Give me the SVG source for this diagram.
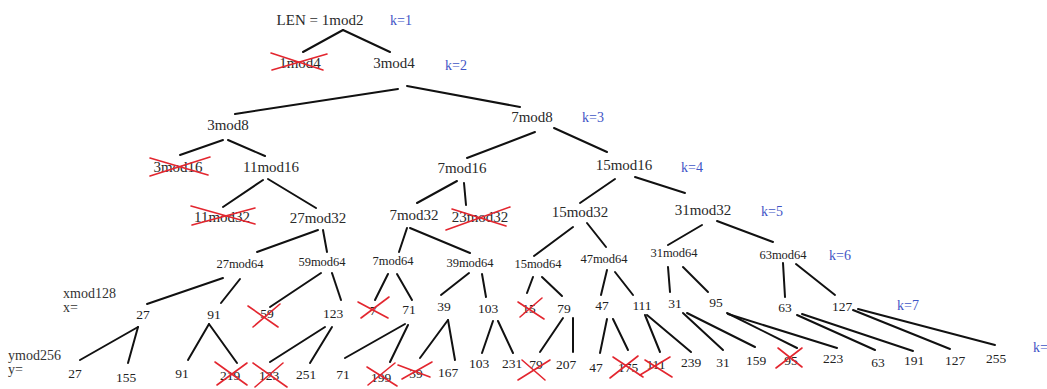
<svg xmlns="http://www.w3.org/2000/svg" width="1047" height="389" viewBox="0 0 1047 389">
  <style>
    .bg { fill: #ffffff; }
    .big { font-family: "Liberation Serif", "Times New Roman", serif; font-size: 15px; fill: #2a2a2a; text-anchor: middle; }
    .mid { font-family: "Liberation Serif", "Times New Roman", serif; font-size: 12.5px; fill: #222; text-anchor: middle; }
    .num { font-family: "Liberation Serif", "Times New Roman", serif; font-size: 13.5px; fill: #222; text-anchor: middle; }
    .lab { font-family: "Liberation Serif", "Times New Roman", serif; font-size: 14px; fill: #333; }
    .k { font-family: "Liberation Serif", "Times New Roman", serif; font-size: 14px; fill: #3f55c6; }
    .edge { stroke: #111; stroke-width: 2; stroke-linecap: round; fill: none; }
    .cross { stroke: #e3262f; stroke-width: 1.6; stroke-linecap: round; fill: none; }
  </style>
  <rect class="bg" x="0" y="0" width="1047" height="389"/>

  <!-- level labels -->
  <g id="levels">
    <text class="k" x="390" y="25">k=1</text>
    <text class="k" x="445" y="70">k=2</text>
    <text class="k" x="582" y="122">k=3</text>
    <text class="k" x="681" y="172">k=4</text>
    <text class="k" x="761" y="216">k=5</text>
    <text class="k" x="829" y="260">k=6</text>
    <text class="k" x="897" y="310">k=7</text>
    <text class="k" x="1033" y="352">k=</text>
  </g>

  <!-- row captions -->
  <g id="captions">
    <text class="lab" x="63" y="298">xmod128</text>
    <text class="lab" x="63" y="312">x=</text>
    <text class="lab" x="8" y="360">ymod256</text>
    <text class="lab" x="8" y="374">y=</text>
  </g>

  <!-- tree edges -->
  <g id="connectors">
    <line class="edge" x1="343" y1="30" x2="303" y2="52"/>
    <line class="edge" x1="343" y1="30" x2="390" y2="52"/>
    <line class="edge" x1="398" y1="89" x2="235" y2="114"/>
    <line class="edge" x1="407" y1="86" x2="520" y2="107"/>
    <line class="edge" x1="223" y1="140" x2="180" y2="155"/>
    <line class="edge" x1="228" y1="140" x2="265" y2="156"/>
    <line class="edge" x1="535" y1="132" x2="467" y2="158"/>
    <line class="edge" x1="554" y1="128" x2="607" y2="152"/>
    <line class="edge" x1="263" y1="180" x2="223" y2="207"/>
    <line class="edge" x1="268" y1="179" x2="316" y2="208"/>
    <line class="edge" x1="457" y1="181" x2="417" y2="203"/>
    <line class="edge" x1="464" y1="183" x2="466" y2="205"/>
    <line class="edge" x1="615" y1="179" x2="580" y2="203"/>
    <line class="edge" x1="635" y1="177" x2="685" y2="193"/>
    <line class="edge" x1="318" y1="230" x2="257" y2="252"/>
    <line class="edge" x1="323" y1="230" x2="327" y2="252"/>
    <line class="edge" x1="407" y1="228" x2="399" y2="252"/>
    <line class="edge" x1="410" y1="228" x2="470" y2="253"/>
    <line class="edge" x1="573" y1="227" x2="534" y2="256"/>
    <line class="edge" x1="587" y1="223" x2="606" y2="247"/>
    <line class="edge" x1="702" y1="225" x2="668" y2="245"/>
    <line class="edge" x1="717" y1="221" x2="773" y2="242"/>
    <line class="edge" x1="223" y1="278" x2="147" y2="304"/>
    <line class="edge" x1="240" y1="279" x2="221" y2="303"/>
    <line class="edge" x1="321" y1="273" x2="270" y2="307"/>
    <line class="edge" x1="332" y1="273" x2="341" y2="300"/>
    <line class="edge" x1="388" y1="274" x2="375" y2="300"/>
    <line class="edge" x1="397" y1="274" x2="412" y2="300"/>
    <line class="edge" x1="469" y1="273" x2="441" y2="295"/>
    <line class="edge" x1="482" y1="274" x2="486" y2="297"/>
    <line class="edge" x1="533" y1="277" x2="527" y2="293"/>
    <line class="edge" x1="542" y1="277" x2="562" y2="296"/>
    <line class="edge" x1="607" y1="270" x2="601" y2="295"/>
    <line class="edge" x1="615" y1="272" x2="633" y2="295"/>
    <line class="edge" x1="668" y1="267" x2="670" y2="292"/>
    <line class="edge" x1="683" y1="267" x2="708" y2="292"/>
    <line class="edge" x1="783" y1="263" x2="785" y2="297"/>
    <line class="edge" x1="796" y1="264" x2="835" y2="295"/>
    <line class="edge" x1="138" y1="327" x2="80" y2="360"/>
    <line class="edge" x1="138" y1="327" x2="128" y2="363"/>
    <line class="edge" x1="209" y1="324" x2="188" y2="360"/>
    <line class="edge" x1="209" y1="324" x2="237" y2="363"/>
    <line class="edge" x1="325" y1="327" x2="270" y2="362"/>
    <line class="edge" x1="332" y1="327" x2="310" y2="363"/>
    <line class="edge" x1="405" y1="324" x2="345" y2="358"/>
    <line class="edge" x1="408" y1="325" x2="390" y2="362"/>
    <line class="edge" x1="448" y1="320" x2="420" y2="358"/>
    <line class="edge" x1="448" y1="320" x2="455" y2="360"/>
    <line class="edge" x1="493" y1="321" x2="482" y2="353"/>
    <line class="edge" x1="498" y1="321" x2="513" y2="353"/>
    <line class="edge" x1="563" y1="318" x2="540" y2="352"/>
    <line class="edge" x1="573" y1="318" x2="573" y2="352"/>
    <line class="edge" x1="607" y1="319" x2="600" y2="353"/>
    <line class="edge" x1="613" y1="319" x2="628" y2="350"/>
    <line class="edge" x1="645" y1="315" x2="660" y2="352"/>
    <line class="edge" x1="647" y1="315" x2="691" y2="352"/>
    <line class="edge" x1="683" y1="313" x2="723" y2="350"/>
    <line class="edge" x1="687" y1="313" x2="755" y2="347"/>
    <line class="edge" x1="727" y1="313" x2="797" y2="348"/>
    <line class="edge" x1="728" y1="314" x2="837" y2="348"/>
    <line class="edge" x1="797" y1="315" x2="875" y2="350"/>
    <line class="edge" x1="802" y1="314" x2="913" y2="351"/>
    <line class="edge" x1="853" y1="310" x2="950" y2="349"/>
    <line class="edge" x1="858" y1="309" x2="995" y2="345"/>
  </g>

  <!-- k = 1..5 nodes -->
  <g id="n-1mod2"><text class="big" x="320" y="25">LEN = 1mod2</text></g>
  <g id="n-1mod4"><text class="big" x="300" y="68">1mod4</text>
    <line class="cross" x1="271" y1="53" x2="323" y2="70"/><line class="cross" x1="272" y1="70" x2="327" y2="54"/></g>
  <g id="n-3mod4"><text class="big" x="394" y="68">3mod4</text></g>
  <g id="n-3mod8"><text class="big" x="228" y="130">3mod8</text></g>
  <g id="n-7mod8"><text class="big" x="532" y="122">7mod8</text></g>
  <g id="n-3mod16"><text class="big" x="178" y="172">3mod16</text>
    <line class="cross" x1="150" y1="158" x2="208" y2="175"/><line class="cross" x1="150" y1="176" x2="210" y2="157"/></g>
  <g id="n-11mod16"><text class="big" x="271" y="172">11mod16</text></g>
  <g id="n-7mod16"><text class="big" x="462" y="173">7mod16</text></g>
  <g id="n-15mod16"><text class="big" x="624" y="170">15mod16</text></g>
  <g id="n-11mod32"><text class="big" x="222" y="222">11mod32</text>
    <line class="cross" x1="191" y1="206" x2="255" y2="224"/><line class="cross" x1="192" y1="225" x2="255" y2="208"/></g>
  <g id="n-27mod32"><text class="big" x="318" y="223">27mod32</text></g>
  <g id="n-7mod32"><text class="big" x="414" y="220">7mod32</text></g>
  <g id="n-23mod32"><text class="big" x="480" y="222">23mod32</text>
    <line class="cross" x1="446" y1="230" x2="510" y2="207"/><line class="cross" x1="452" y1="209" x2="506" y2="226"/></g>
  <g id="n-15mod32"><text class="big" x="580" y="217">15mod32</text></g>
  <g id="n-31mod32"><text class="big" x="703" y="215">31mod32</text></g>

  <!-- k = 6 nodes -->
  <g id="n-27mod64"><text class="mid" x="240" y="268">27mod64</text></g>
  <g id="n-59mod64"><text class="mid" x="322" y="266">59mod64</text></g>
  <g id="n-7mod64"><text class="mid" x="393" y="265">7mod64</text></g>
  <g id="n-39mod64"><text class="mid" x="470" y="267">39mod64</text></g>
  <g id="n-15mod64"><text class="mid" x="538" y="268">15mod64</text></g>
  <g id="n-47mod64"><text class="mid" x="604" y="263">47mod64</text></g>
  <g id="n-31mod64"><text class="mid" x="674" y="257">31mod64</text></g>
  <g id="n-63mod64"><text class="mid" x="783" y="259">63mod64</text></g>

  <!-- k = 7 nodes (x mod 128) -->
  <g id="x-27"><text class="num" x="143" y="319">27</text></g>
  <g id="x-91"><text class="num" x="214" y="319">91</text></g>
  <g id="x-59"><text class="num" x="267" y="318">59</text>
    <line class="cross" x1="248" y1="306" x2="278" y2="327"/><line class="cross" x1="253" y1="327" x2="280" y2="304"/></g>
  <g id="x-123"><text class="num" x="333" y="318">123</text></g>
  <g id="x-7"><text class="num" x="373" y="315">7</text>
    <line class="cross" x1="358" y1="302" x2="388" y2="318"/><line class="cross" x1="361" y1="318" x2="389" y2="297"/></g>
  <g id="x-71"><text class="num" x="409" y="314">71</text></g>
  <g id="x-39"><text class="num" x="444" y="311">39</text></g>
  <g id="x-103"><text class="num" x="488" y="313">103</text></g>
  <g id="x-15"><text class="num" x="529" y="313">15</text>
    <line class="cross" x1="518" y1="302" x2="544" y2="319"/><line class="cross" x1="520" y1="317" x2="542" y2="298"/></g>
  <g id="x-79"><text class="num" x="564" y="313">79</text></g>
  <g id="x-47"><text class="num" x="602" y="310">47</text></g>
  <g id="x-111"><text class="num" x="642" y="310">111</text></g>
  <g id="x-31"><text class="num" x="675" y="308">31</text></g>
  <g id="x-95"><text class="num" x="716" y="307">95</text></g>
  <g id="x-63"><text class="num" x="785" y="312">63</text></g>
  <g id="x-127"><text class="num" x="842" y="311">127</text></g>

  <!-- k = 8 leaves (y mod 256) -->
  <g id="y-27"><text class="num" x="75" y="378">27</text></g>
  <g id="y-155"><text class="num" x="126" y="382">155</text></g>
  <g id="y-91"><text class="num" x="182" y="378">91</text></g>
  <g id="y-219"><text class="num" x="230" y="380">219</text>
    <line class="cross" x1="215" y1="362" x2="247" y2="385"/><line class="cross" x1="217" y1="385" x2="247" y2="363"/></g>
  <g id="y-123"><text class="num" x="269" y="380">123</text>
    <line class="cross" x1="253" y1="363" x2="287" y2="387"/><line class="cross" x1="255" y1="387" x2="283" y2="363"/></g>
  <g id="y-251"><text class="num" x="306" y="379">251</text></g>
  <g id="y-71"><text class="num" x="343" y="379">71</text></g>
  <g id="y-199"><text class="num" x="381" y="382">199</text>
    <line class="cross" x1="367" y1="367" x2="397" y2="386"/><line class="cross" x1="368" y1="385" x2="395" y2="363"/></g>
  <g id="y-39"><text class="num" x="416" y="378">39</text>
    <line class="cross" x1="398" y1="365" x2="430" y2="377"/><line class="cross" x1="402" y1="379" x2="432" y2="362"/></g>
  <g id="y-167"><text class="num" x="448" y="377">167</text></g>
  <g id="y-103"><text class="num" x="479" y="368">103</text></g>
  <g id="y-231"><text class="num" x="512" y="368">231</text></g>
  <g id="y-79"><text class="num" x="536" y="369">79</text>
    <line class="cross" x1="518" y1="380" x2="550" y2="360"/><line class="cross" x1="522" y1="360" x2="545" y2="380"/></g>
  <g id="y-207"><text class="num" x="566" y="369">207</text></g>
  <g id="y-47"><text class="num" x="596" y="372">47</text></g>
  <g id="y-175"><text class="num" x="628" y="372">175</text>
    <line class="cross" x1="610" y1="378" x2="638" y2="356"/><line class="cross" x1="613" y1="357" x2="643" y2="377"/></g>
  <g id="y-111"><text class="num" x="656" y="369">111</text>
    <line class="cross" x1="640" y1="375" x2="670" y2="357"/><line class="cross" x1="645" y1="360" x2="672" y2="377"/></g>
  <g id="y-239"><text class="num" x="691" y="367">239</text></g>
  <g id="y-31"><text class="num" x="723" y="367">31</text></g>
  <g id="y-159"><text class="num" x="756" y="365">159</text></g>
  <g id="y-95"><text class="num" x="791" y="365">95</text>
    <line class="cross" x1="776" y1="368" x2="802" y2="348"/><line class="cross" x1="778" y1="348" x2="802" y2="367"/></g>
  <g id="y-223"><text class="num" x="833" y="363">223</text></g>
  <g id="y-63"><text class="num" x="878" y="367">63</text></g>
  <g id="y-191"><text class="num" x="914" y="365">191</text></g>
  <g id="y-127"><text class="num" x="955" y="365">127</text></g>
  <g id="y-255"><text class="num" x="996" y="363">255</text></g>
</svg>
